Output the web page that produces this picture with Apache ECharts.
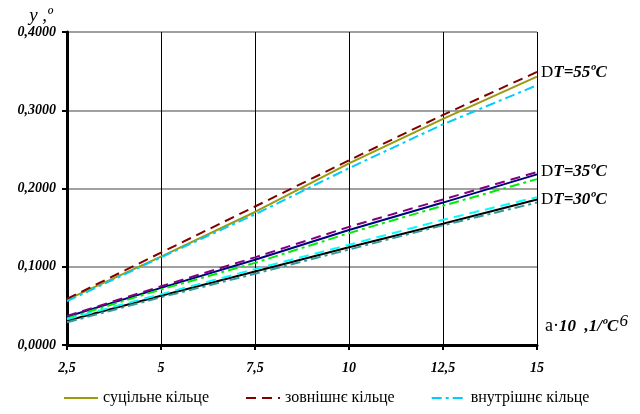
<!DOCTYPE html>
<html>
<head>
<meta charset="utf-8">
<style>html,body{margin:0;padding:0;background:#fff}#content{width:640px;height:414px}</style>
<script src="https://cdn.jsdelivr.net/npm/echarts@6/dist/echarts.min.js"></script>
</head>
<body>
<div id="content"></div>
<script>
const xValues = [2.5, 5, 7.5, 10, 12.5, 15];
const xLabels = ['2,5', '5', '7,5', '10', '12,5', '15'];

// ΔT = 55 °C
const solid55 = [0.058, 0.113, 0.170, 0.232, 0.289, 0.343];
const outer55 = [0.059, 0.118, 0.177, 0.236, 0.294, 0.349];
const inner55 = [0.056, 0.112, 0.167, 0.226, 0.282, 0.332];
// ΔT = 35 °C
const solid35 = [0.036, 0.073, 0.109, 0.147, 0.182, 0.218];
const outer35 = [0.037, 0.075, 0.112, 0.151, 0.186, 0.221];
const inner35 = [0.034, 0.071, 0.105, 0.143, 0.178, 0.212];
// ΔT = 30 °C
const solid30 = [0.031, 0.063, 0.094, 0.125, 0.155, 0.186];
const outer30 = [0.033, 0.065, 0.097, 0.128, 0.160, 0.189];
const inner30 = [0.029, 0.061, 0.091, 0.122, 0.153, 0.182];

const names = ['суцільне кільце', 'зовнішнє кільце', 'внутрішнє кільце'];
const groupLabels = ['T=55ºC', 'T=35ºC', 'T=30ºC'];

const serif = '"Liberation Serif", "Times New Roman", serif';
const dashed = [10, 6];
const dashDot = [10, 4, 3, 4];

function pts(arr) {
  return xValues.map((x, i) => [x, arr[i]]);
}

function line(name, arr, color, type, label, labelDy) {
  const s = {
    name: name,
    type: 'line',
    data: pts(arr),
    symbol: 'none',
    silent: true,
    lineStyle: { color: color, width: 2, type: type },
    itemStyle: { color: color }
  };
  if (label) {
    s.endLabel = {
      show: true,
      distance: 4,
      offset: [0, labelDy],
      formatter: '{d|D}{t|' + label + '}',
      rich: {
        d: { fontFamily: serif, fontSize: 17, color: '#000' },
        t: { fontFamily: serif, fontSize: 17, fontStyle: 'italic', fontWeight: 'bold', color: '#000' }
      }
    };
  }
  return s;
}

const chart = echarts.init(document.getElementById('content'));
chart.setOption({
  animation: false,
  grid: { left: 67, right: 103, top: 32, bottom: 69 },
  legend: {
    data: names.map(n => ({ name: n })),
    bottom: 3,
    left: 58,
    width: 580,
    itemWidth: 34,
    itemHeight: 12,
    itemGap: 36,
    itemStyle: { opacity: 0 },
    textStyle: { fontFamily: serif, fontSize: 16, color: '#000' }
  },
  xAxis: {
    type: 'value',
    min: 2.5,
    max: 15,
    interval: 2.5,
    axisLine: { lineStyle: { color: '#000', width: 3 } },
    axisTick: { show: true, length: 5, lineStyle: { color: '#000', width: 2 } },
    splitLine: { show: true, lineStyle: { color: '#000', width: 1 } },
    axisLabel: {
      margin: 16,
      fontFamily: serif, fontSize: 14, fontStyle: 'italic', fontWeight: 'bold', color: '#000',
      formatter: v => xLabels[xValues.indexOf(v)] || ''
    },
    name: '{a|a·}{b|10  ,1/ºC}{s|6}',
    nameLocation: 'end',
    nameGap: 8,
    nameTextStyle: {
      verticalAlign: 'bottom',
      padding: [0, 0, 5, 0],
      rich: {
        a: { fontFamily: serif, fontSize: 18, color: '#000' },
        b: { fontFamily: serif, fontSize: 17, fontStyle: 'italic', fontWeight: 'bold', color: '#000' },
        s: { fontFamily: serif, fontSize: 17, fontStyle: 'italic', color: '#000', verticalAlign: 'top', padding: [0, 0, 10, 1] }
      }
    }
  },
  yAxis: {
    type: 'value',
    min: 0,
    max: 0.4,
    interval: 0.1,
    axisLine: { show: true, lineStyle: { color: '#000', width: 3 } },
    axisTick: { show: true, length: 5, lineStyle: { color: '#000', width: 2 } },
    splitLine: { show: true, lineStyle: { color: '#808080', width: 1.5 } },
    axisLabel: {
      margin: 11,
      fontFamily: serif, fontSize: 14, fontStyle: 'italic', fontWeight: 'bold', color: '#000',
      formatter: v => v.toFixed(4).replace('.', ',')
    },
    name: 'y ,º',
    nameLocation: 'end',
    nameGap: 6,
    nameTextStyle: { fontFamily: serif, fontSize: 19, fontStyle: 'italic', color: '#000', align: 'right', padding: [0, 14, 0, 0] }
  },
  series: [
    line(names[0], solid55, '#9a9a10', 'solid', groupLabels[0], -4),
    line(names[1], outer55, '#800000', dashed),
    line(names[2], inner55, '#00ccff', dashDot),
    line('s35', solid35, '#000080', 'solid', groupLabels[1], -3),
    line('o35', outer35, '#800080', dashed),
    line('i35', inner35, '#00ee00', dashDot),
    line('s30', solid30, '#000000', 'solid', groupLabels[2], 0),
    line('o30', outer30, '#00ffff', dashed),
    line('i30', inner30, '#339999', dashDot)
  ]
});
</script>
</body>
</html>
